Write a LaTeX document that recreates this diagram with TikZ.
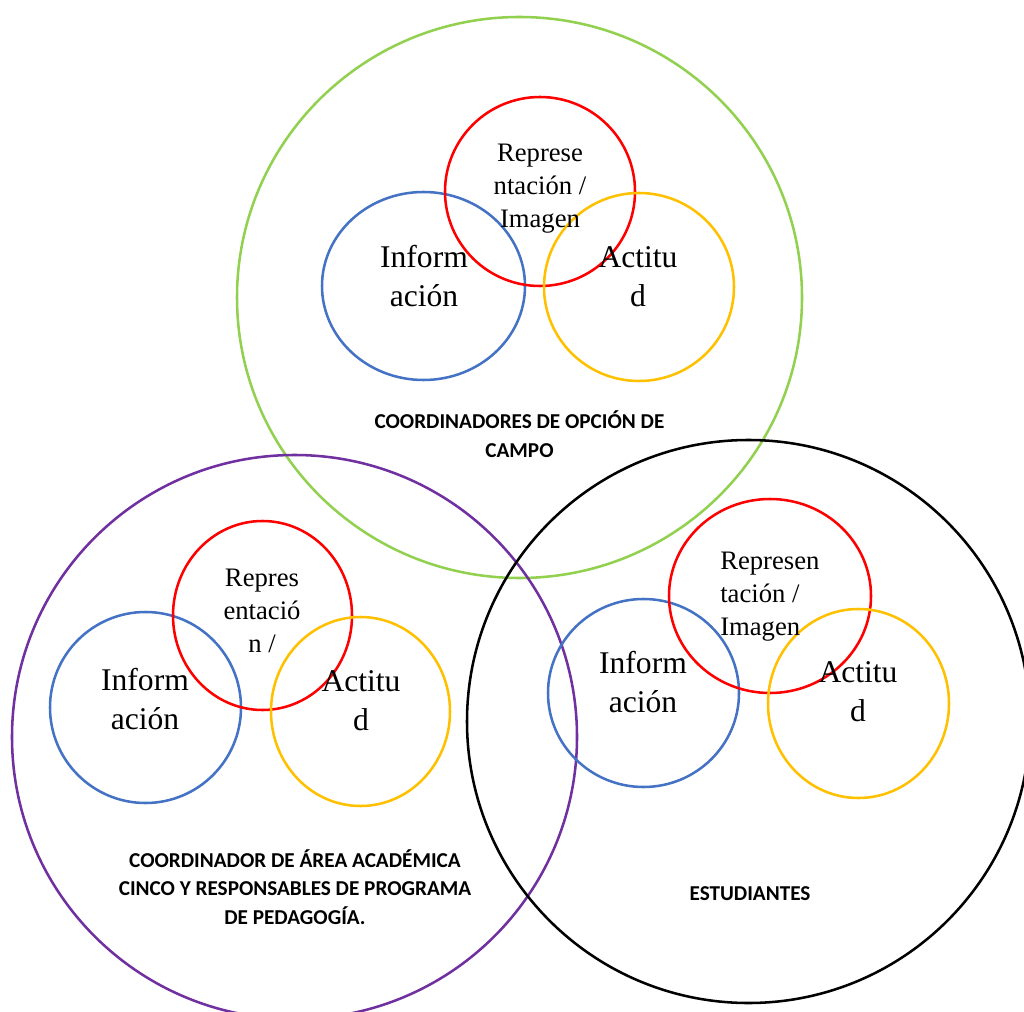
\documentclass[tikz,border=0pt]{standalone}
\usepackage{fontspec}
\setmainfont{Liberation Serif}
\newfontfamily\labelfont{Carlito}
\definecolor{cgreen}{RGB}{146,208,80}
\definecolor{cpurple}{RGB}{112,48,160}
\definecolor{cblue}{RGB}{68,114,196}
\definecolor{cred}{RGB}{255,0,0}
\definecolor{cyellow}{RGB}{255,192,0}
\begin{document}
\begin{tikzpicture}[x=0.75pt,y=-0.75pt,
  ring/.style={line width=1.9pt},
  bigword/.style={align=center,inner sep=0pt,font=\fontsize{23.7}{29.25}\selectfont},
  smallword/.style={align=center,inner sep=0pt,font=\fontsize{20}{24.75}\selectfont},
  grouplabel/.style={align=center,inner sep=0pt,font=\labelfont\bfseries\fontsize{15.9}{21.5}\selectfont}]
\useasboundingbox (0,0) rectangle (1024,1012);

% three large groups
\draw[ring,cgreen]  (519.5,297.5) ellipse [x radius=282.5, y radius=280.5];
\draw[ring,cpurple] (294.5,737)   ellipse [x radius=282.5, y radius=282];
\draw[ring,black]   (748.5,721.5) ellipse [x radius=281.5, y radius=281.5];

% top cluster
\draw[ring,cblue]   (423.5,286)   ellipse [x radius=101.5, y radius=94];
\draw[ring,cred]    (540,191.5)   ellipse [x radius=95, y radius=94.5];
\draw[ring,cyellow] (639,287)     ellipse [x radius=95, y radius=94];
\node[bigword]   (infoA) at (424,276) {Inform\\ación};
\node[bigword]   (actA)  at (638,277) {Actitu\\d};
\node[smallword] (repA)  at (540,189) {Represe\\ntación /\\Imagen};
\node[grouplabel] (labA) at (519.5,434) {COORDINADORES DE OPCIÓN DE\\CAMPO};

% bottom-left cluster
\draw[ring,cblue]   (145.5,707.5) ellipse [x radius=95.5, y radius=95.5];
\draw[ring,cred]    (262.5,615.5) ellipse [x radius=89.5, y radius=94.5];
\draw[ring,cyellow] (360.5,711.5) ellipse [x radius=89.5, y radius=94.5];
\node[bigword]   (infoB) at (145,699) {Inform\\ación};
\node[bigword]   (actB)  at (361,701) {Actitu\\d};
\node[smallword] (repB)  at (262,611) {Repres\\entació\\n /};
\node[grouplabel] (labB) at (295,887) {COORDINADOR DE ÁREA ACADÉMICA\\CINCO Y RESPONSABLES DE PROGRAMA\\DE PEDAGOGÍA.};

% bottom-right cluster
\draw[ring,cblue]   (643.5,693)   ellipse [x radius=95.5, y radius=94];
\draw[ring,cred]    (770,596)     ellipse [x radius=101, y radius=97];
\draw[ring,cyellow] (858.5,703.5) ellipse [x radius=90.5, y radius=94.5];
\node[bigword]   (infoC) at (643,682) {Inform\\ación};
\node[bigword]   (actC)  at (858,692) {Actitu\\d};
\node[smallword,align=left,anchor=west] (repC) at (720,597) {Represen\\tación /\\Imagen};
\node[grouplabel] (labC) at (750,894) {ESTUDIANTES};
\end{tikzpicture}
\end{document}
